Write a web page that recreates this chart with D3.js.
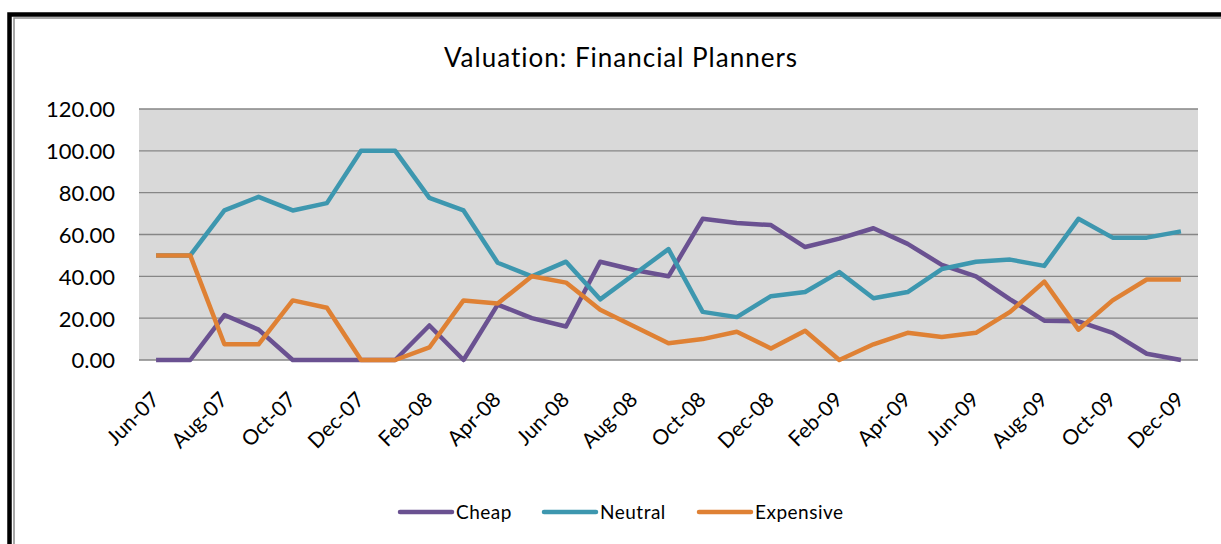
<!DOCTYPE html>
<html>
<head>
<meta charset="utf-8">
<script src="https://cdn.jsdelivr.net/npm/d3@7"></script>
<style>
  body { margin: 0; background: #fff; }
  svg { display: block; font-family: Lato, "Open Sans", sans-serif; }
</style>
</head>
<body>
<script>
// data
var months = ["Jun-07","Jul-07","Aug-07","Sep-07","Oct-07","Nov-07","Dec-07","Jan-08","Feb-08","Mar-08",
              "Apr-08","May-08","Jun-08","Jul-08","Aug-08","Sep-08","Oct-08","Nov-08","Dec-08","Jan-09",
              "Feb-09","Mar-09","Apr-09","May-09","Jun-09","Jul-09","Aug-09","Sep-09","Oct-09","Nov-09","Dec-09"]
var cheap = [0,0,21.5,14.5,0,0,0,0,16.5,0,26.5,20,16,47,43,40,67.5,65.5,64.5,54,58,63,55.5,45.5,40,29,18.8,18.5,13,3,0]
var neutral = [50,50,71.5,78,71.5,75,100,100,77.5,71.5,46.5,40,47,29,41,53,23,20.5,30.5,32.5,42,29.5,32.5,43.5,47,48,45,67.5,58.5,58.5,61.5]
var expensive = [50,50,7.5,7.5,28.5,25,0,0,6,28.5,27,40,37,24,16,8,10,13.5,5.5,14,0,7.5,13,11,13,23,37.5,14.5,28.5,38.5,38.5]
var yTicks = [0,20,40,60,80,100,120]
var seriesNames = ["Cheap","Neutral","Expensive"]
var seriesColors = ["#6a5191","#3d97af","#df8134"]

var svg_w = 1221, svg_h = 544
var svg = d3.select("body").append("svg")
            .attr("width", svg_w).attr("height", svg_h)

// frame (thick black + thin gray, like the pasted Excel picture)
svg.append("rect").attr("x", 9.5).attr("y", 14.5).attr("width", 1300).attr("height", 600)
   .attr("fill", "none").attr("stroke", "#000").attr("stroke-width", 4.5)
svg.append("rect").attr("x", 14).attr("y", 18).attr("width", 1300).attr("height", 600)
   .attr("fill", "none").attr("stroke", "#8c8c8c").attr("stroke-width", 1.5)

var plot_l = 139, plot_r = 1198, plot_t = 109, plot_b = 360

var xscale = d3.scalePoint().domain(months).range([plot_l, plot_r]).padding(0.5)
var yscale = d3.scaleLinear().domain([0, 120]).range([plot_b, plot_t])

// plot area
svg.append("rect").attr("x", plot_l).attr("y", plot_t)
   .attr("width", plot_r - plot_l).attr("height", plot_b - plot_t)
   .attr("fill", "#d9d9d9")

// gridlines
svg.append("g").selectAll("line").data(yTicks).enter().append("line")
   .attr("x1", plot_l).attr("x2", plot_r)
   .attr("y1", d => yscale(d)).attr("y2", d => yscale(d))
   .attr("stroke", "#868686").attr("stroke-width", 1.3)

// y axis labels
var yAxis = d3.axisLeft(yscale).tickValues(yTicks).tickFormat(d3.format(".2f")).tickSize(0).tickPadding(0)
svg.append("g").attr("transform", "translate(115,0)").call(yAxis)
   .call(g => g.select(".domain").remove())
   .selectAll("text").attr("font-size", 22).attr("fill", "#000")
   .attr("font-family", "Lato, sans-serif").attr("dy", "0.36em")

// x axis labels, every second month, rotated
var xAxis = d3.axisBottom(xscale).tickValues(months.filter((m, i) => i % 2 == 0)).tickSize(0)
svg.append("g").attr("transform", "translate(0," + plot_b + ")").call(xAxis)
   .call(g => g.select(".domain").remove())
   .selectAll("text")
   .attr("font-size", 21).attr("fill", "#000").attr("font-family", "Lato, sans-serif")
   .attr("text-anchor", "end")
   .attr("transform", "translate(4,41) rotate(-45)")
   .attr("y", 0).attr("dy", 0)

// lines
var line = d3.line().x((d, i) => xscale(months[i])).y(d => yscale(d))
var allSeries = [cheap, neutral, expensive]
svg.append("g").selectAll("path").data(allSeries).enter().append("path")
   .attr("d", d => line(d))
   .attr("fill", "none")
   .attr("stroke", (d, i) => seriesColors[i])
   .attr("stroke-width", 4.5)
   .attr("stroke-linejoin", "round")

// title
svg.append("text").attr("x", 621).attr("y", 67).attr("text-anchor", "middle")
   .attr("font-size", 26).attr("letter-spacing", 1).attr("fill", "#000")
   .text("Valuation: Financial Planners")

// legend
var legX = [400, 544, 699]
var leg = svg.append("g").selectAll("g").data(seriesNames).enter().append("g")
             .attr("transform", (d, i) => "translate(" + legX[i] + ",512)")
leg.append("line").attr("x1", 0).attr("x2", 52).attr("y1", 0).attr("y2", 0)
   .attr("stroke", (d, i) => seriesColors[i]).attr("stroke-width", 4.5).attr("stroke-linecap", "round")
leg.append("text").attr("x", 56).attr("y", 0).attr("dy", "0.35em")
   .attr("font-size", 19).attr("letter-spacing", 0.5).attr("fill", "#000").text(d => d)
</script>
</body>
</html>
